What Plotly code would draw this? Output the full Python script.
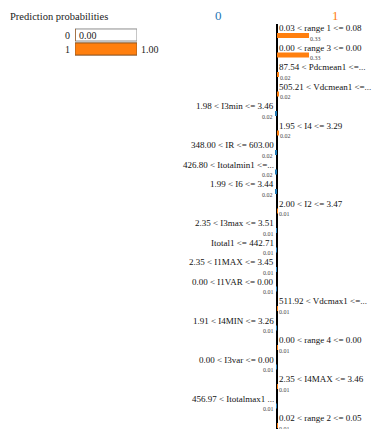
import plotly.graph_objects as go

# ---------------- data ----------------
class_names = ["0", "1"]
class_probas = [0.00, 1.00]
proba_max = [1.0, 1.0]

features = [
    "0.03 < range 1 <= 0.08",
    "0.00 < range 3 <= 0.00",
    "87.54 < Pdcmean1 <=...",
    "505.21 < Vdcmean1 <=...",
    "1.98 < I3min <= 3.46",
    "1.95 < I4 <= 3.29",
    "348.00 < IR <= 603.00",
    "426.80 < Itotalmin1 <=...",
    "1.99 < I6 <= 3.44",
    "2.00 < I2 <= 3.47",
    "2.35 < I3max <= 3.51",
    "Itotal1 <= 442.71",
    "2.35 < I1MAX <= 3.45",
    "0.00 < I1VAR <= 0.00",
    "511.92 < Vdcmax1 <=...",
    "1.91 < I4MIN <= 3.26",
    "0.00 < range 4 <= 0.00",
    "0.00 < I3var <= 0.00",
    "2.35 < I4MAX <= 3.46",
    "456.97 < Itotalmax1 ...",
    "0.02 < range 2 <= 0.05",
]
weights = [0.33, 0.33, 0.02, 0.02, -0.02, 0.02, -0.02, -0.02, -0.02, 0.01,
           -0.01, -0.01, -0.01, -0.01, 0.01, -0.01, 0.01, -0.01, 0.01, -0.01, 0.01]

BLUE = "#1f77b4"
ORANGE = "#ff7f0e"
SERIF = "Liberation Serif"
O = 8                      # page body margin
W, H = 380 - O, 429 - O


def px(p):
    return (p - O) / W


def py(p):
    return 1 - (p - O) / H


rows = list(range(len(features)))
ZERO = 277 - O
SCALE = 97.0

fig = go.Figure()

# prediction probability boxes
fig.add_trace(go.Bar(
    x=proba_max, y=class_names, orientation="h", xaxis="x", yaxis="y",
    marker=dict(color="white", line=dict(color="#8c8c8c", width=1)),
    width=0.86, hoverinfo="skip"))
fig.add_trace(go.Bar(
    x=class_probas, y=class_names, orientation="h", xaxis="x", yaxis="y",
    marker=dict(color=[BLUE, ORANGE], line=dict(color="#9a5a1e", width=1)),
    width=0.86))

# explanation bars
fig.add_trace(go.Bar(
    x=weights, y=rows, orientation="h", xaxis="x2", yaxis="y2",
    marker=dict(color=[ORANGE if w > 0 else BLUE for w in weights], line=dict(width=0)),
    width=0.26))

ann = []
ann.append(dict(text="Prediction probabilities", xref="paper", yref="paper",
                x=px(8), y=py(17), xanchor="left", yanchor="middle", showarrow=False,
                font=dict(family=SERIF, size=10.5, color="#222")))
for c, p in zip(class_names, class_probas):
    ann.append(dict(text=f"{p:.2f}", xref="x", yref="y", x=p, y=c,
                    xanchor="left", yanchor="middle", xshift=2, showarrow=False,
                    font=dict(family=SERIF, size=10, color="#222")))

ann.append(dict(text=class_names[0], xref="x2", yref="paper", x=-0.608, y=py(16),
                xanchor="center", yanchor="middle", showarrow=False,
                font=dict(family=SERIF, size=13, color=BLUE)))
ann.append(dict(text=class_names[1], xref="x2", yref="paper", x=0.608, y=py(16),
                xanchor="center", yanchor="middle", showarrow=False,
                font=dict(family=SERIF, size=13, color=ORANGE)))

for i, (f, w) in enumerate(zip(features, weights)):
    pos = w > 0
    ann.append(dict(text=f, xref="x2", yref="y2", x=0, y=i,
                    xanchor="left" if pos else "right", yanchor="middle",
                    xshift=0 if pos else -1, yshift=7.5, showarrow=False,
                    font=dict(family=SERIF, size=9, color="#111")))
    ann.append(dict(text=f"{abs(w):.2f}", xref="x2", yref="y2", x=w, y=i,
                    xanchor="left" if pos else "right", yanchor="middle",
                    xshift=-1 if pos else 0, yshift=-3, showarrow=False,
                    font=dict(family=SERIF, size=6, color="#444")))

fig.update_layout(
    width=W, height=H,
    margin=dict(l=0, r=0, t=0, b=0),
    paper_bgcolor="white", plot_bgcolor="rgba(0,0,0,0)",
    showlegend=False, barmode="overlay",
    xaxis=dict(domain=[px(75), px(137)], range=[0, 1], anchor="y",
               showgrid=False, zeroline=False, showticklabels=False, showline=False),
    yaxis=dict(domain=[py(56), py(28)], type="category", range=[1.5, -0.5], anchor="x",
               showgrid=False, zeroline=False, showline=False, ticks="",
               ticklabelstandoff=4, tickfont=dict(family=SERIF, size=10, color="#222")),
    xaxis2=dict(domain=[0, 1], range=[-ZERO / SCALE, (W - ZERO) / SCALE], anchor="y2",
                showgrid=False, showticklabels=False, showline=False,
                zeroline=True, zerolinecolor="black", zerolinewidth=2),
    yaxis2=dict(domain=[0, py(24)], range=[(429 - 35.5) / 19.5, (24 - 35.5) / 19.5], anchor="x2",
                showgrid=False, zeroline=False, showticklabels=False, showline=False),
    annotations=ann,
)

fig.write_html("out.html")
